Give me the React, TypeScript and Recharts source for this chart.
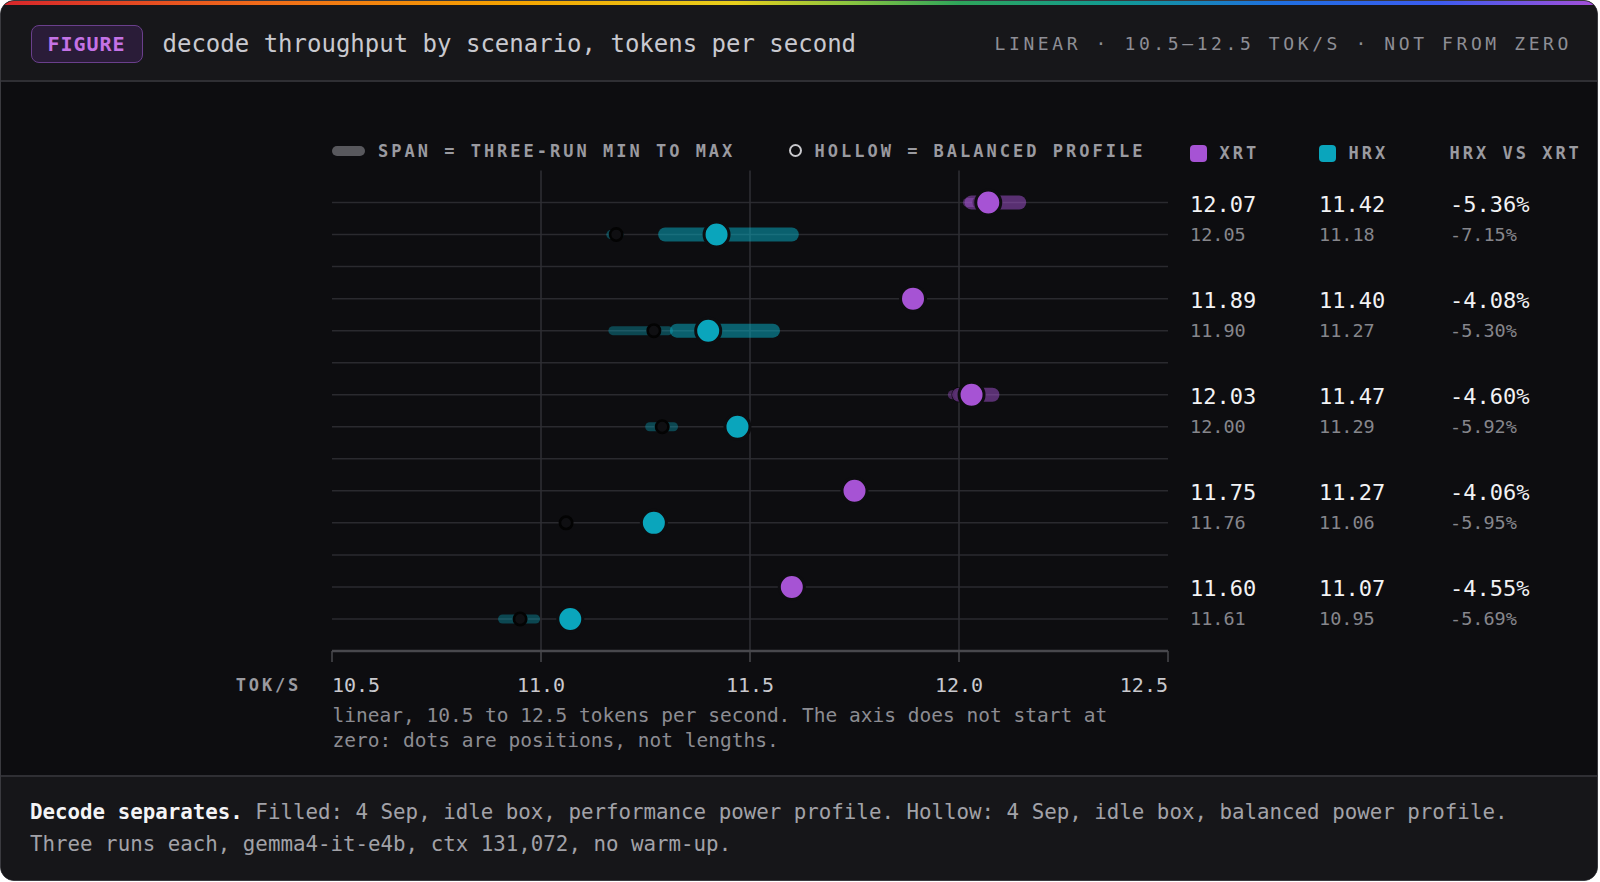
import React from 'react';
import { ScatterChart, Scatter, XAxis, YAxis, ReferenceLine } from 'recharts';

// ---------- data ----------
const categories = ['chat-short', 'chat-long-output', 'code-short', 'code-explain', 'code-debug'];

// performance profile (filled), balanced profile (hollow)
const xrtPerf = [12.07, 11.89, 12.03, 11.75, 11.6];
const xrtBal = [12.05, 11.9, 12.0, 11.76, 11.61];
const hrxPerf = [11.42, 11.4, 11.47, 11.27, 11.07];
const hrxBal = [11.18, 11.27, 11.29, 11.06, 10.95];
const pctPerf = [-5.36, -4.08, -4.6, -4.06, -4.55];
const pctBal = [-7.15, -5.3, -5.92, -5.95, -5.69];

// three-run min / max spans
const xrtPerfMin = [12.03, 11.88, 12.0, 11.745, 11.595];
const xrtPerfMax = [12.144, 11.895, 12.08, 11.755, 11.605];
const xrtBalMin = [12.02, 11.895, 11.984, 11.755, 11.605];
const xrtBalMax = [12.07, 11.905, 12.02, 11.765, 11.615];
const hrxPerfMin = [11.297, 11.325, 11.46, 11.265, 11.065];
const hrxPerfMax = [11.6, 11.555, 11.48, 11.275, 11.075];
const hrxBalMin = [11.167, 11.172, 11.26, 11.055, 10.908];
const hrxBalMax = [11.187, 11.305, 11.317, 11.065, 10.987];

const xTicks = [10.5, 11.0, 11.5, 12.0, 12.5];
const gridXTicks = [11.0, 11.5, 12.0];
const xDomain = [10.5, 12.5];

// ---------- style ----------
const FONT = '"DejaVu Sans Mono", "Liberation Mono", monospace';
const PURPLE = '#a653d4';
const TEAL = '#0aa5bc';
const BG = '#0d0d10';
const GRID = '#2a2a2f';
const VGRID = '#2f2f34';

const LANE = 1 / 6;
const laneY = (row: number, series: 'xrt' | 'hrx') => (series === 'xrt' ? row - LANE : row + LANE);

const spanData = (mins: number[], maxs: number[], series: 'xrt' | 'hrx') =>
  mins.map((mn, i) => [
    { x: mn, y: laneY(i, series) },
    { x: maxs[i], y: laneY(i, series) },
  ]);
const dotData = (vals: number[], series: 'xrt' | 'hrx') => vals.map((v, i) => ({ x: v, y: laneY(i, series) }));

const valueTicks = categories
  .flatMap((_, i) => [i - LANE, i + LANE])
  .concat(categories.slice(1).map((_, i) => i + 0.5));
const rowTicks = categories.map((_, i) => i);

const NoShape = () => <g />;
const filledDot = (color: string) => (p: any) =>
  <circle cx={p.cx} cy={p.cy} r={12.5} fill={color} stroke={BG} strokeWidth={3} />;
const HollowDot = (p: any) => <circle cx={p.cx} cy={p.cy} r={6.2} fill="#0f0f12" stroke="#030303" strokeWidth={2.6} />;

const CatTick = (p: any) => (
  <text x={p.x} y={p.y} dy={9} textAnchor="end" fontFamily={FONT} fontSize={23.5} fill="#ececee">
    {categories[p.payload.value]}
  </text>
);

const XTick = (p: any) => {
  const anchor = p.index === 0 ? 'start' : p.index === xTicks.length - 1 ? 'end' : 'middle';
  return (
    <text x={p.x} y={p.y} dy={14.5} textAnchor={anchor} fontFamily={FONT} fontSize={20} fill="#c9c9ce">
      {Number(p.payload.value).toFixed(1)}
    </text>
  );
};

const ValueTick = (p: any) => {
  const v = p.payload.value;
  const row = Math.round(v);
  const d = v - row;
  if (Math.abs(d) > 0.3) return <g />;
  const top = d < 0;
  const vals = top
    ? [xrtPerf[row].toFixed(2), hrxPerf[row].toFixed(2), pctPerf[row].toFixed(2) + '%']
    : [xrtBal[row].toFixed(2), hrxBal[row].toFixed(2), pctBal[row].toFixed(2) + '%'];
  const fs = top ? 22 : 18.5;
  const fill = top ? '#f2f2f4' : '#86868c';
  const dy = top ? 9.5 : 6.5;
  const offs = [0, 129, 260];
  return (
    <g>
      {vals.map((t, k) => (
        <text key={k} x={p.x + offs[k]} y={p.y} dy={dy} textAnchor="start" fontFamily={FONT} fontSize={fs} fill={fill}>
          {t}
        </text>
      ))}
    </g>
  );
};

const legendText: React.CSSProperties = {
  position: 'absolute',
  fontFamily: FONT,
  fontWeight: 700,
  fontSize: 17,
  letterSpacing: 3,
  color: '#9a9aa0',
  lineHeight: '20px',
  whiteSpace: 'nowrap',
};

export default function App() {
  const hbSpans = spanData(hrxBalMin, hrxBalMax, 'hrx');
  const xbSpans = spanData(xrtBalMin, xrtBalMax, 'xrt');
  const hpSpans = spanData(hrxPerfMin, hrxPerfMax, 'hrx');
  const xpSpans = spanData(xrtPerfMin, xrtPerfMax, 'xrt');

  return (
    <div style={{ position: 'absolute', left: 0, top: 0, width: 1600, height: 882, background: '#ffffff', overflow: 'hidden' }}>
      <div
        style={{
          position: 'absolute',
          left: 0,
          top: 0,
          width: 1598,
          height: 881,
          boxSizing: 'border-box',
          border: '1.5px solid #3a3a3f',
          borderRadius: 14,
          overflow: 'hidden',
          background: BG,
          fontFamily: FONT,
        }}
      >
        {/* header */}
        <div style={{ position: 'absolute', left: 0, top: 0, right: 0, height: 79, background: '#17171a', borderBottom: '2px solid #2f2f34' }} />
        <div
          style={{
            position: 'absolute',
            left: 0,
            top: 0,
            right: 0,
            height: 4,
            background:
              'linear-gradient(90deg, #d7262b 0%, #f06a1a 16%, #f5a300 32%, #e8cf1c 46%, #8cc63f 53%, #2ea55a 60%, #119a94 70%, #1f6fe0 80%, #3b5cf0 90%, #a54fd8 100%)',
          }}
        />
        <div
          style={{
            position: 'absolute',
            left: 29.5,
            top: 23.5,
            width: 112,
            height: 38,
            boxSizing: 'border-box',
            border: '1.5px solid #6a3f8c',
            background: '#2a1c38',
            borderRadius: 8,
            display: 'flex',
            alignItems: 'center',
            justifyContent: 'center',
            color: '#c472e6',
            fontWeight: 700,
            fontSize: 20,
            letterSpacing: 1,
          }}
        >
          FIGURE
        </div>
        <div style={{ position: 'absolute', left: 161.5, top: 23.5, height: 38, display: 'flex', alignItems: 'center', color: '#c9c9cf', fontSize: 24, whiteSpace: 'nowrap' }}>
          decode throughput by scenario, tokens per second
        </div>
        <div
          style={{
            position: 'absolute',
            right: 25,
            top: 23.5,
            height: 38,
            display: 'flex',
            alignItems: 'center',
            color: '#8e8e95',
            fontSize: 18,
            letterSpacing: 3.6,
            whiteSpace: 'nowrap',
          }}
        >
          LINEAR · 10.5–12.5 TOK/S · NOT FROM ZERO
        </div>

        {/* legend row */}
        <div style={{ position: 'absolute', left: 330.5, top: 144.5, width: 33, height: 10, borderRadius: 5, background: '#58585d' }} />
        <div style={{ ...legendText, left: 377, top: 139.5 }}>SPAN = THREE-RUN MIN TO MAX</div>
        <div
          style={{
            position: 'absolute',
            left: 788,
            top: 143,
            width: 13,
            height: 13,
            boxSizing: 'border-box',
            borderRadius: '50%',
            border: '2.5px solid #c8c8cc',
          }}
        />
        <div style={{ ...legendText, left: 813.5, top: 139.5 }}>HOLLOW = BALANCED PROFILE</div>
        <div style={{ position: 'absolute', left: 1188.5, top: 143.5, width: 17, height: 17, borderRadius: 4, background: PURPLE }} />
        <div style={{ ...legendText, left: 1218.5, top: 142 }}>XRT</div>
        <div style={{ position: 'absolute', left: 1317.5, top: 143.5, width: 17, height: 17, borderRadius: 4, background: TEAL }} />
        <div style={{ ...legendText, left: 1347.5, top: 142 }}>HRX</div>
        <div style={{ ...legendText, left: 1448.5, top: 142 }}>HRX VS XRT</div>

        {/* chart */}
        <div style={{ position: 'absolute', left: 0, top: 0 }}>
          <ScatterChart width={1595} height={760} margin={{ top: 169.5, right: 0, bottom: 60, left: 0 }}>
            <XAxis
              dataKey="x"
              type="number"
              domain={xDomain}
              ticks={xTicks}
              interval={0}
              allowDataOverflow
              height={50}
              tickSize={11}
              tickMargin={15}
              axisLine={{ stroke: '#48484d', strokeWidth: 2.5 }}
              tickLine={{ stroke: '#48484d', strokeWidth: 1.5 }}
              tick={XTick}
            />
            <YAxis
              yAxisId="cat"
              dataKey="y"
              type="number"
              domain={[-0.5, 4.5]}
              reversed
              ticks={rowTicks}
              interval={0}
              width={331}
              tickSize={0}
              tickMargin={34}
              axisLine={false}
              tickLine={false}
              tick={CatTick}
            />
            <YAxis
              yAxisId="val"
              orientation="right"
              dataKey="y"
              type="number"
              domain={[-0.5, 4.5]}
              reversed
              ticks={valueTicks}
              interval={0}
              width={428}
              tickSize={0}
              tickMargin={22}
              axisLine={false}
              tickLine={false}
              tick={ValueTick}
            />

            {valueTicks.map((t) => (
              <ReferenceLine key={'h' + t} yAxisId="val" y={t} stroke={GRID} strokeWidth={1.5} zIndex={-100} />
            ))}
            {gridXTicks.map((t) => (
              <ReferenceLine key={'v' + t} yAxisId="val" x={t} stroke={VGRID} strokeWidth={1.5} zIndex={-100} />
            ))}

            {hbSpans.map((d, i) => (
              <Scatter
                key={'hb' + i}
                data={d}
                yAxisId="val"
                fill={TEAL}
                line={{ stroke: TEAL, strokeOpacity: 0.38, strokeWidth: 9, strokeLinecap: 'round' }}
                shape={NoShape}
                isAnimationActive={false}
              />
            ))}
            {xbSpans.map((d, i) => (
              <Scatter
                key={'xb' + i}
                data={d}
                yAxisId="val"
                fill={PURPLE}
                line={{ stroke: PURPLE, strokeOpacity: 0.38, strokeWidth: 9, strokeLinecap: 'round' }}
                shape={NoShape}
                isAnimationActive={false}
              />
            ))}
            <Scatter data={dotData(xrtBal, 'xrt')} yAxisId="val" fill={PURPLE} shape={HollowDot} isAnimationActive={false} />
            <Scatter data={dotData(hrxBal, 'hrx')} yAxisId="val" fill={TEAL} shape={HollowDot} isAnimationActive={false} />
            {hpSpans.map((d, i) => (
              <Scatter
                key={'hp' + i}
                data={d}
                yAxisId="val"
                fill={TEAL}
                line={{ stroke: TEAL, strokeOpacity: 0.55, strokeWidth: 14, strokeLinecap: 'round' }}
                shape={NoShape}
                isAnimationActive={false}
              />
            ))}
            {xpSpans.map((d, i) => (
              <Scatter
                key={'xp' + i}
                data={d}
                yAxisId="val"
                fill={PURPLE}
                line={{ stroke: PURPLE, strokeOpacity: 0.5, strokeWidth: 14, strokeLinecap: 'round' }}
                shape={NoShape}
                isAnimationActive={false}
              />
            ))}
            <Scatter data={dotData(xrtPerf, 'xrt')} yAxisId="val" fill={PURPLE} shape={filledDot(PURPLE)} isAnimationActive={false} />
            <Scatter data={dotData(hrxPerf, 'hrx')} yAxisId="val" fill={TEAL} shape={filledDot(TEAL)} isAnimationActive={false} />
          </ScatterChart>
        </div>

        {/* axis unit + caption */}
        <div style={{ ...legendText, left: 0, width: 300, textAlign: 'right', top: 673.5, letterSpacing: 2.8 }}>TOK/S</div>
        <div
          style={{
            position: 'absolute',
            left: 331.5,
            top: 702,
            fontSize: 19.5,
            lineHeight: '25px',
            color: '#8c8c92',
            whiteSpace: 'pre',
          }}
        >
          {'linear, 10.5 to 12.5 tokens per second. The axis does not start at\nzero: dots are positions, not lengths.'}
        </div>

        {/* footer */}
        <div
          style={{
            position: 'absolute',
            left: 0,
            right: 0,
            top: 773.5,
            bottom: 0,
            background: '#161619',
            borderTop: '2px solid #2f2f34',
          }}
        >
          <div style={{ position: 'absolute', left: 29, top: 19.5, fontSize: 20.8, lineHeight: '32px', whiteSpace: 'pre', display: 'flex' }}>
            <span style={{ color: '#f4f4f6', fontWeight: 700 }}>Decode separates.</span>
            <span style={{ color: '#a2a2a8', marginLeft: 12.5 }}>
              Filled: 4 Sep, idle box, performance power profile. Hollow: 4 Sep, idle box, balanced power profile.
            </span>
          </div>
          <div style={{ position: 'absolute', left: 29, top: 51.5, fontSize: 20.8, lineHeight: '32px', color: '#a2a2a8', whiteSpace: 'pre' }}>
            Three runs each, gemma4-it-e4b, ctx 131,072, no warm-up.
          </div>
        </div>
      </div>
    </div>
  );
}
